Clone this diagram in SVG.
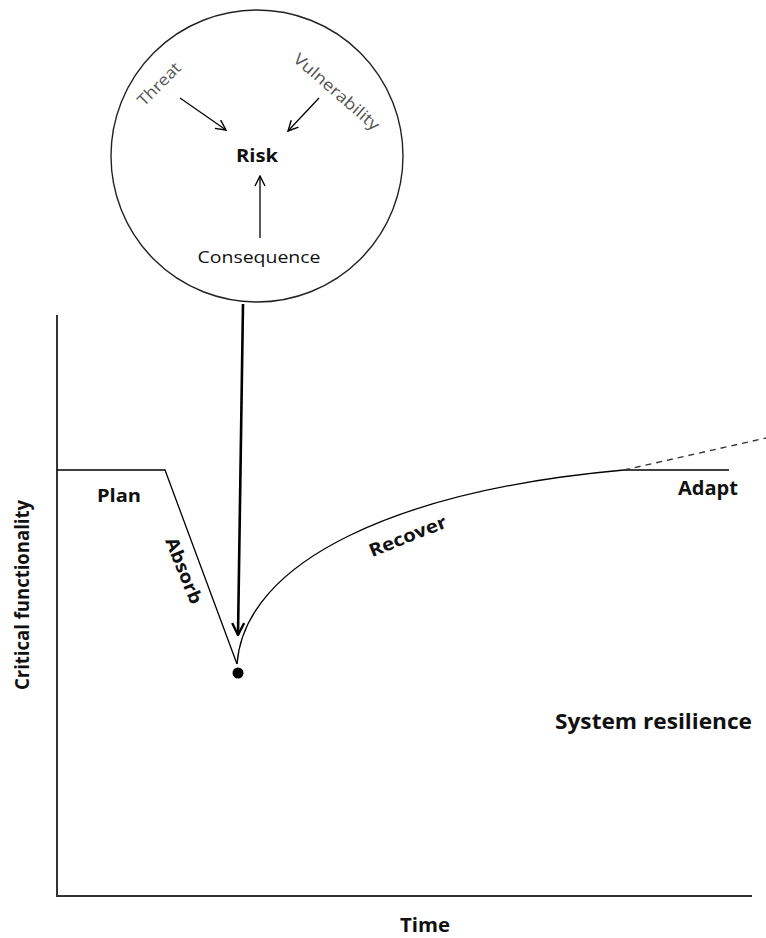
<svg xmlns="http://www.w3.org/2000/svg" width="766" height="938" viewBox="0 0 766 938">
<defs>
<marker id="open" viewBox="0 0 12 12" refX="11" refY="6" markerWidth="12" markerHeight="12" markerUnits="userSpaceOnUse" orient="auto">
<path d="M1,1 L11,6 L1,11" fill="none" stroke="#000" stroke-width="1.4"/>
</marker>
<marker id="openbig" viewBox="0 0 14 14" refX="13" refY="7" markerWidth="14" markerHeight="14" markerUnits="userSpaceOnUse" orient="auto">
<path d="M1,1 L13,7 L1,13" fill="none" stroke="#000" stroke-width="2.4"/>
</marker>
</defs>
<style>
text{font-family:"Open Sans","Liberation Sans",sans-serif;fill:#111}
.b{font-weight:bold}
.g{fill:#555}
.ln{fill:none;stroke:#000;stroke-width:1.3}
</style>
<rect width="766" height="938" fill="#fff"/>
<g id="axes">
<path d="M57,315 V896 H752" fill="none" stroke="#333" stroke-width="2"/>
<text class="b" x="425" y="932" font-size="19" text-anchor="middle" textLength="50" lengthAdjust="spacingAndGlyphs">Time</text>
<text class="b" transform="translate(29,595) rotate(-90)" x="0" y="0" font-size="19" text-anchor="middle" textLength="190" lengthAdjust="spacingAndGlyphs">Critical functionality</text>
</g>
<g id="risk-circle">
<circle cx="257" cy="156" r="146" fill="none" stroke="#222" stroke-width="1.4"/>
<text class="g" transform="translate(163,88) rotate(-45)" font-size="16" text-anchor="middle" textLength="54" lengthAdjust="spacingAndGlyphs">Threat</text>
<text class="g" transform="translate(333,96) rotate(41)" font-size="16" text-anchor="middle" textLength="108" lengthAdjust="spacingAndGlyphs">Vulnerability</text>
<text class="b" x="257" y="162" font-size="17" text-anchor="middle" textLength="42" lengthAdjust="spacingAndGlyphs">Risk</text>
<text x="259" y="263" font-size="16" text-anchor="middle" textLength="123" lengthAdjust="spacingAndGlyphs">Consequence</text>
</g>
<g id="connectors">
<line class="ln" x1="180" y1="98" x2="226" y2="130" marker-end="url(#open)"/>
<line class="ln" x1="319" y1="98" x2="288" y2="131" marker-end="url(#open)"/>
<line class="ln" x1="260" y1="238" x2="260" y2="176" marker-end="url(#open)"/>
<line x1="243" y1="304" x2="238" y2="635" stroke="#000" stroke-width="2.6" marker-end="url(#openbig)"/>
</g>
<g id="curve">
<path class="ln" d="M57,470 H165 L237,664"/>
<path class="ln" d="M237,664 C245,560 400,490 624,470 H729"/>
<path d="M624,470 L766,438" fill="none" stroke="#333" stroke-width="1.4" stroke-dasharray="6,5"/>
<circle cx="238" cy="673" r="5.5" fill="#000"/>
</g>
<g id="labels">
<text class="b" x="97" y="502" font-size="18" textLength="44" lengthAdjust="spacingAndGlyphs">Plan</text>
<text class="b" transform="translate(178,573) rotate(68)" font-size="18" text-anchor="middle" textLength="70" lengthAdjust="spacingAndGlyphs">Absorb</text>
<text class="b" transform="translate(410,542) rotate(-22)" font-size="18" text-anchor="middle" textLength="82" lengthAdjust="spacingAndGlyphs">Recover</text>
<text class="b" x="678" y="495" font-size="19" textLength="60" lengthAdjust="spacingAndGlyphs">Adapt</text>
<text class="b" x="555" y="729" font-size="22" textLength="197" lengthAdjust="spacingAndGlyphs">System resilience</text>
</g>
</svg>
